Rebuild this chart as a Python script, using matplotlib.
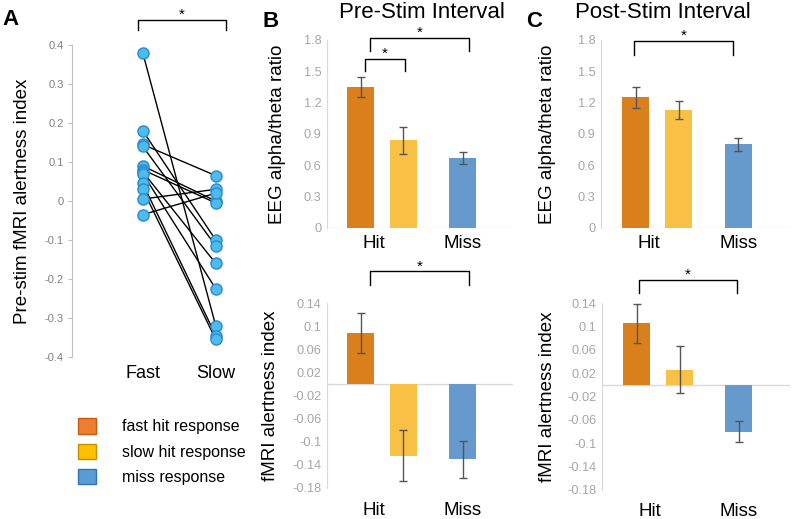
import numpy as np
import matplotlib
matplotlib.use("Agg")
import matplotlib.pyplot as plt
from matplotlib.patches import Patch

plt.rcParams['font.family'] = ['Liberation Sans', 'DejaVu Sans']

# panel A: paired pre-stim fMRI alertness index (fast vs slow)
fast_vals = [0.38, 0.18, 0.145, 0.14, 0.09, 0.08, 0.075, 0.07, 0.045, 0.03, 0.005, -0.035]
slow_vals = [-0.32, -0.10, 0.065, -0.115, 0.0, -0.005, -0.16, -0.225, -0.345, -0.355, 0.03, 0.02]
pair_labels = ['Fast', 'Slow']

# panels B/C: bars (fast hit, slow hit, miss)
group_labels = ['Hit', 'Miss']
legend_labels = ['fast hit response', 'slow hit response', 'miss response']
pre_eeg = [1.35, 0.84, 0.67]
pre_eeg_err = [0.10, 0.13, 0.055]
post_eeg = [1.25, 1.13, 0.80]
post_eeg_err = [0.10, 0.09, 0.06]
pre_fmri = [0.088, -0.124, -0.130]
pre_fmri_err = [0.034, 0.044, 0.032]
post_fmri = [0.105, 0.026, -0.080]
post_fmri_err = [0.033, 0.040, 0.018]

eeg_ticks = [0, 0.3, 0.6, 0.9, 1.2, 1.5, 1.8]
fmri_ticks = [-0.18, -0.14, -0.1, -0.06, -0.02, 0.02, 0.06, 0.1, 0.14]
a_ticks = [-0.4, -0.3, -0.2, -0.1, 0, 0.1, 0.2, 0.3, 0.4]

bar_colors = ['#D9801C', '#F8C146', '#6699CC']
leg_colors = ['#ED7D31', '#FFC000', '#5B9BD5']
leg_edges = ['#C55A11', '#BF9000', '#2E75B6']
bar_x = np.array([0, 1, 2.38])
tick_x = [0.3, 2.38]

W, H = 792, 519
fig = plt.figure(figsize=(W / 100, H / 100), dpi=100)


def px_axes(left, top, right, bottom):
    return fig.add_axes([left / W, 1 - bottom / H, (right - left) / W, (bottom - top) / H])


def bracket(ax, x0, x1, ytop, yleg):
    ax.plot([x0, x0, x1, x1], [yleg, ytop, ytop, yleg], color='black', lw=1.0, clip_on=False)
    ax.annotate('*', xy=((x0 + x1) / 2, ytop), xytext=(0, -1.5), textcoords='offset points',
                ha='center', va='bottom', fontsize=11, annotation_clip=False)


def fmt(v):
    return '0' if v == 0 else ('%g' % v)


def bar_panel(ax, vals, errs, ticks, ylim, xlim, ylab, label_x, pad):
    ax.bar(bar_x, vals, width=0.63, color=bar_colors, zorder=2)
    ax.errorbar(bar_x, vals, yerr=errs, fmt='none', ecolor='#555555', elinewidth=1,
                capsize=2.8, capthick=1, zorder=3)
    ax.axhline(0, color='#D9D9D9', lw=1, zorder=1)
    ax.set_xlim(*xlim)
    ax.set_ylim(*ylim)
    ax.set_yticks(ticks)
    ax.set_yticklabels([fmt(t) for t in ticks], color='#A6A6A6', fontsize=9.2)
    ax.set_xticks(tick_x)
    ax.set_xticklabels(group_labels, fontsize=13.5)
    ax.tick_params(axis='both', length=0)
    ax.tick_params(axis='x', pad=pad)
    ax.tick_params(axis='y', pad=4)
    for s in ['top', 'right', 'bottom']:
        ax.spines[s].set_visible(False)
    ax.spines['left'].set_color('#D9D9D9')
    ax.set_ylabel(ylab, fontsize=13.5)
    ax.yaxis.set_label_coords(label_x, 0.5)
    ax.patch.set_alpha(0)


# ---- panel A
axA = px_axes(72, 45, 242, 357)
for f, s in zip(fast_vals, slow_vals):
    axA.plot([0, 1], [f, s], color='black', lw=1.0, zorder=2)
axA.plot(np.zeros(len(fast_vals)), fast_vals, 'o', ms=8, mfc='#4DBBEC', mec='#2A8AD0', mew=1, zorder=3, ls='none')
axA.plot(np.ones(len(slow_vals)), slow_vals, 'o', ms=8, mfc='#4DBBEC', mec='#2A8AD0', mew=1, zorder=3, ls='none')
axA.set_xlim(-0.97, 1.36)
axA.set_ylim(-0.4, 0.4)
axA.set_yticks(a_ticks)
axA.set_yticklabels([fmt(t) for t in a_ticks], color='#808080', fontsize=8)
axA.set_xticks([0, 1])
axA.set_xticklabels(pair_labels, fontsize=13)
axA.tick_params(axis='x', length=0, pad=6)
axA.tick_params(axis='y', length=3, color='#BFBFBF', pad=3)
for s in ['top', 'right', 'bottom']:
    axA.spines[s].set_visible(False)
axA.spines['left'].set_color('#BFBFBF')
axA.set_ylabel('Pre-stim fMRI alertness index', fontsize=13.5)
axA.yaxis.set_label_coords(-0.241, 0.5)
bracket(axA, -0.07, 1.14, 0.464, 0.438)

# ---- panel B
axB1 = px_axes(327, 40, 513, 228)
bar_panel(axB1, pre_eeg, pre_eeg_err, eeg_ticks, (0, 1.8), (-0.78, 3.55),
          'EEG alpha/theta ratio', -0.221, 5)
bracket(axB1, 0.1, 1.03, 1.62, 1.50)
bracket(axB1, 0.22, 2.52, 1.82, 1.69)

axB2 = px_axes(327, 303, 513, 488)
bar_panel(axB2, pre_fmri, pre_fmri_err, fmri_ticks, (-0.18, 0.14), (-0.78, 3.55),
          'fMRI alertness index', -0.258, 10)
bracket(axB2, 0.22, 2.52, 0.195, 0.171)

# ---- panel C
axC1 = px_axes(601, 40, 790, 228)
bar_panel(axC1, post_eeg, post_eeg_err, eeg_ticks, (0, 1.8), (-0.81, 3.58),
          'EEG alpha/theta ratio', -0.238, 5)
bracket(axC1, -0.05, 2.26, 1.79, 1.66)

axC2 = px_axes(602, 303, 790, 490)
bar_panel(axC2, post_fmri, post_fmri_err, fmri_ticks, (-0.18, 0.14), (-0.81, 3.58),
          'fMRI alertness index', -0.244, 9)
bracket(axC2, 0.05, 2.35, 0.18, 0.157)

# titles and panel letters
fig.text(422 / W, 1 - 17.5 / H, 'Pre-Stim Interval', fontsize=16, ha='center', va='baseline')
fig.text(663 / W, 1 - 17.5 / H, 'Post-Stim Interval', fontsize=16, ha='center', va='baseline')
fig.text(2 / W, 1 - 25 / H, 'A', fontsize=16, fontweight='bold', va='baseline')
fig.text(262 / W, 1 - 27 / H, 'B', fontsize=16, fontweight='bold', va='baseline')
fig.text(526 / W, 1 - 27 / H, 'C', fontsize=16, fontweight='bold', va='baseline')

# legend
handles = [Patch(facecolor=c, edgecolor=e, lw=1) for c, e in zip(leg_colors, leg_edges)]
fig.legend(handles, legend_labels, loc='upper left', bbox_to_anchor=(72 / W, 1 - 412 / H),
           frameon=False, fontsize=11.5, handlelength=1.1, handleheight=1.1,
           handletextpad=1.6, labelspacing=0.57, borderaxespad=0)

fig.savefig('out.png', dpi=100)
